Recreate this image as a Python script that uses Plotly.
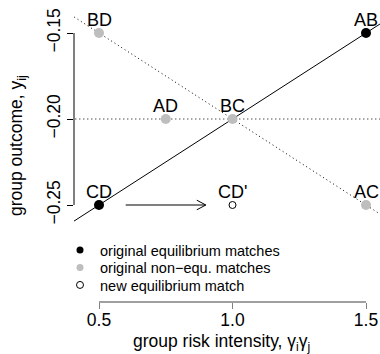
import plotly.graph_objects as go

# ---- data ----
match_labels = ["AB", "AC", "AD", "BC", "BD", "CD"]
risk_intensity = [1.5, 1.5, 0.75, 1.0, 0.5, 0.5]
group_outcome = [-0.15, -0.25, -0.20, -0.20, -0.15, -0.25]
is_equilibrium = [True, False, False, False, False, True]

new_labels = ["CD'"]
new_risk = [1.0]
new_outcome = [-0.25]

arrow_risk = [0.6, 0.9]          # arrow from CD towards CD'
x_ticks = [0.5, 1.0, 1.5]
x_ticklabels = ["0.5", "1.0", "1.5"]
y_ticks = [-0.15, -0.20, -0.25]
y_ticklabels = ["\u22120.15", "\u22120.20", "\u22120.25"]

legend_names = ["original equilibrium matches",
                "original non\u2212equ. matches",
                "new equilibrium match"]

# ---- geometry ----
W, H = 380, 354
ML, MR, MT, MB = 74, 0, 0, 52
XR = [0.40637, 1.55243]
YR = [-0.306395, -0.130814]
FONT = "Liberation Sans, Arial, sans-serif"
GRAY = "#BEBEBE"

pw = W - ML - MR
ph = H - MT - MB
px_x = (XR[1] - XR[0]) / pw
px_y = (YR[1] - YR[0]) / ph

def pick(flag):
    return ([x for x, f in zip(risk_intensity, is_equilibrium) if f == flag],
            [y for y, f in zip(group_outcome, is_equilibrium) if f == flag])

def point(label):
    i = match_labels.index(label)
    return risk_intensity[i], group_outcome[i]

def line_through(a, b):
    (x1, y1), (x2, y2) = point(a), point(b)
    s = (y2 - y1) / (x2 - x1)
    xs = [XR[0] - 0.1, XR[1] + 0.1]
    return xs, [y1 + s * (x - x1) for x in xs]

fig = go.Figure()

# reference lines
lx, ly = line_through("CD", "AB")
fig.add_trace(go.Scatter(x=lx, y=ly, mode="lines", line=dict(color="black", width=1),
                         showlegend=False, hoverinfo="skip"))
lx, ly = line_through("BD", "AC")
fig.add_trace(go.Scatter(x=lx, y=ly, mode="lines",
                         line=dict(color="black", width=1, dash="1px,3px"),
                         showlegend=False, hoverinfo="skip"))
lx, ly = line_through("AD", "BC")
fig.add_trace(go.Scatter(x=lx, y=ly, mode="lines",
                         line=dict(color="black", width=1, dash="1px,3px"),
                         showlegend=False, hoverinfo="skip"))

# arrow
ay = point("CD")[1]
fig.add_trace(go.Scatter(x=arrow_risk, y=[ay, ay], mode="lines",
                         line=dict(color="black", width=1), showlegend=False, hoverinfo="skip"))
hx, hy = 9 * px_x, 4.8 * px_y
tip = arrow_risk[1]
fig.add_trace(go.Scatter(x=[tip - hx, tip, tip - hx], y=[ay + hy, ay, ay - hy], mode="lines",
                         line=dict(color="black", width=1), showlegend=False, hoverinfo="skip"))

# points
x, y = pick(False)
fig.add_trace(go.Scatter(x=x, y=y, mode="markers",
                         marker=dict(color=GRAY, size=10, line=dict(width=0)),
                         showlegend=False, cliponaxis=False))
x, y = pick(True)
fig.add_trace(go.Scatter(x=x, y=y, mode="markers",
                         marker=dict(color="black", size=10, line=dict(width=0)),
                         showlegend=False, cliponaxis=False))
fig.add_trace(go.Scatter(x=new_risk, y=new_outcome, mode="markers",
                         marker=dict(color="white", size=7, line=dict(color="black", width=1)),
                         showlegend=False, cliponaxis=False))

# point labels
label_annots = []
for lab, xv, yv in zip(match_labels + new_labels, risk_intensity + new_risk,
                       group_outcome + new_outcome):
    label_annots.append(dict(text=lab, x=xv, y=yv, xref="x", yref="y", showarrow=False,
                             xanchor="center", yanchor="middle", yshift=13,
                             font=dict(family=FONT, size=18, color="black")))

# legend keys (one legend per row)
key_styles = [dict(color="black", size=7, line=dict(width=0)),
              dict(color=GRAY, size=7, line=dict(width=0)),
              dict(color="white", size=7, line=dict(color="black", width=1))]
legend_ids = ["legend", "legend2", "legend3"]
row_px = [250, 267.5, 285]
for name, st, lid in zip(legend_names, key_styles, legend_ids):
    fig.add_trace(go.Scatter(x=[None], y=[None], mode="markers", name=name, marker=st,
                             legend=lid, showlegend=True))

leg_common = dict(xanchor="left", yanchor="middle", bgcolor="rgba(0,0,0,0)",
                  font=dict(family=FONT, size=14.5, color="black"), borderwidth=0)
legend_layout = {}
for lid, rp in zip(legend_ids, row_px):
    legend_layout[lid] = dict(x=(60 - ML) / pw, y=(ph - rp) / ph, **leg_common)

# axis lines limited to tick range
shapes = [
    dict(type="line", xref="x", yref="paper", x0=x_ticks[0], x1=x_ticks[-1], y0=0, y1=0,
         line=dict(color="#808080", width=1.3)),
    dict(type="line", xref="paper", yref="y", x0=0, x1=0, y0=y_ticks[0], y1=y_ticks[-1],
         line=dict(color="black", width=1)),
]

fig.update_layout(
    width=W, height=H, margin=dict(l=ML, r=MR, t=MT, b=MB, pad=0),
    paper_bgcolor="white", plot_bgcolor="white",
    font=dict(family=FONT, size=17.5, color="black"),
    xaxis=dict(range=XR, tickvals=x_ticks, ticktext=x_ticklabels, ticks="outside", ticklen=6,
               tickcolor="#808080", tickwidth=1.3, showline=False, showgrid=False,
               zeroline=False, tickfont=dict(size=17.5), ticklabelstandoff=-4),
    yaxis=dict(range=YR, tickvals=y_ticks, ticktext=y_ticklabels, ticks="outside", ticklen=6,
               tickcolor="black", tickwidth=1, showline=False, showgrid=False, zeroline=False,
               tickangle=-90, tickfont=dict(size=17.5)),
    shapes=shapes,
    annotations=label_annots + [
        dict(text="group risk intensity, \u03b3<sub>i</sub>\u03b3<sub>j</sub>", xref="paper",
             yref="paper", x=(221 - ML) / pw, y=(ph - 342) / ph, showarrow=False,
             xanchor="center", yanchor="middle", font=dict(size=17.5)),
        dict(text="group outcome, y<sub>ij</sub>", xref="paper", yref="paper",
             x=(17 - ML) / pw, y=(ph - 146) / ph, showarrow=False, textangle=-90,
             xanchor="center", yanchor="middle", font=dict(size=17.5)),
    ],
    **legend_layout,
)

fig.write_html("out.html")
